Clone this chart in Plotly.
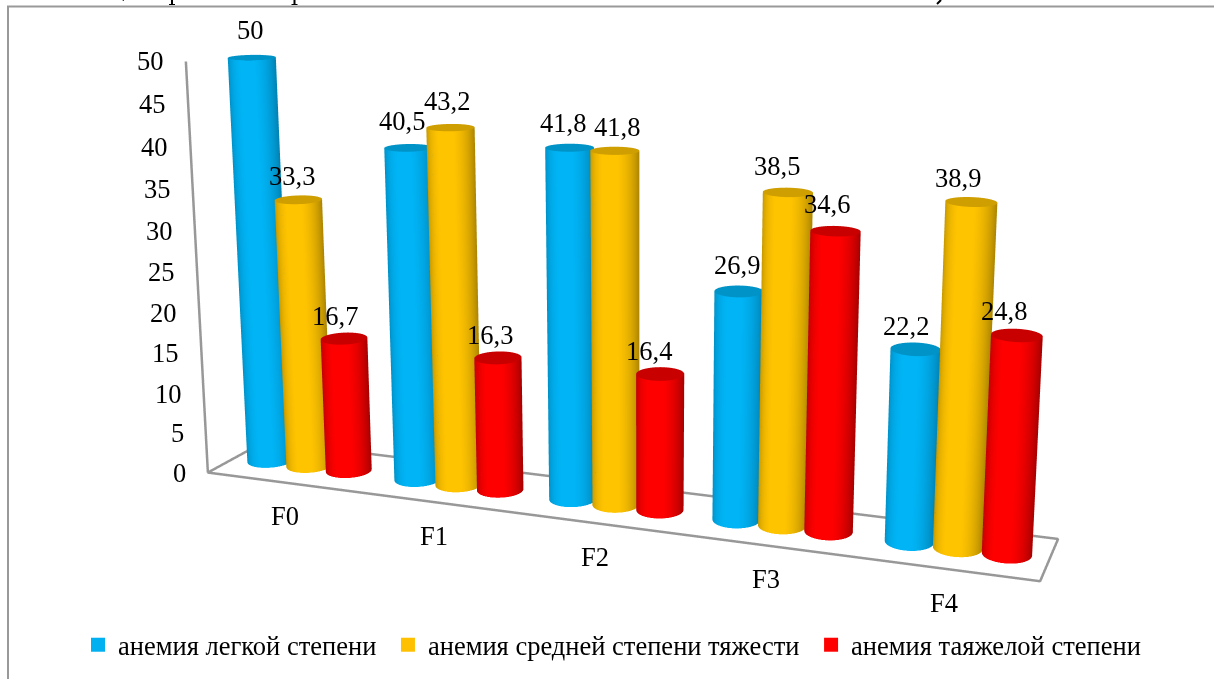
import numpy as np
import plotly.graph_objects as go

# Chart values
categories = ["F0", "F1", "F2", "F3", "F4"]
series_names = ["анемия легкой степени", "анемия средней степени тяжести", "анемия таяжелой степени"]
mild = [50, 40.5, 41.8, 26.9, 22.2]
moderate = [33.3, 43.2, 41.8, 38.5, 38.9]
severe = [16.7, 16.3, 16.4, 34.6, 24.8]
series_values = [mild, moderate, severe]
z_ticks = [0, 5, 10, 15, 20, 25, 30, 35, 40, 45, 50]

# Small per-label offsets in pixels, so labels sit clear of neighbouring cylinders
label_dx = [[6, 1, 0, 5, -3], [1, 3, 9, -4, -6], [-2, -1, -4, -2, -6]]
label_dy = [[-3, -2, 0, -1, 2], [1, -2, 1, -1, 1], [2, 2, 2, -2, 1]]
category_dx = [4, 0, 0, 1, -2]

# Cylinder colours: bright body, shaded edge, cap
BRIGHT = ["#00B4F5", "#FFC400", "#FF0000"]
EDGE = ["#0082B4", "#AE8600", "#A80000"]
CAP = ["#0093C8", "#CF9E00", "#C80000"]
LEGEND_COLOURS = ["#00B0F0", "#FFC000", "#FF0000"]
GRID_GREY = "#989898"
FONT = "Liberation Serif"
TEXT_SIZE = 26.5

# Scene proportions and camera
ASPECT = dict(x=2.0, y=0.2511, z=0.9875)
EYE = np.array([1.5024, -3.7330, 1.0104])
CENTER = np.array([0.2637, 0.2960, 0.0808])
UP = dict(x=-0.0021, y=-0.0426, z=1.0)

# The canvas is larger than the window, so that the vanishing point falls where it should
W, H = 1534, 1524
TOP = -518


def paper_x(px):
    return px / W


def paper_y(py):
    return 1 - (py - TOP) / H


BAR_STEP = 0.27      # category units between neighbouring cylinders
RADIUS = 0.135       # category units
N = 72

fig = go.Figure()


def cylinder(cx, cy, height, s):
    """Side wall and cap of one cylinder, shaded towards the camera."""
    rx = RADIUS
    ry = RADIUS * (ASPECT["x"] / 5) / ASPECT["y"]
    th = np.linspace(0, 2 * np.pi, N + 1)
    xs = cx + rx * np.cos(th)
    ys = cy + ry * np.sin(th)
    mx = (cx / 5 - 0.5) * ASPECT["x"]
    my = (cy - 0.5) * ASPECT["y"]
    view = np.arctan2(EYE[1] - my, EYE[0] - mx)
    shade = np.cos(th - view + np.radians(12))
    t = np.clip(shade / 0.95, 0, 1) ** 1.3
    lighting = dict(ambient=1, diffuse=0, specular=0, roughness=1, fresnel=0)
    fig.add_trace(go.Surface(
        x=np.array([xs, xs]), y=np.array([ys, ys]),
        z=np.array([np.zeros(N + 1), np.full(N + 1, height)]),
        surfacecolor=np.array([t, t]), cmin=0, cmax=1,
        colorscale=[[0, EDGE[s]], [1, BRIGHT[s]]],
        showscale=False, hoverinfo="skip", showlegend=False, lighting=lighting,
    ))
    fig.add_trace(go.Surface(
        x=np.array([np.full(N + 1, cx), xs]), y=np.array([np.full(N + 1, cy), ys]),
        z=np.full((2, N + 1), height),
        surfacecolor=np.zeros((2, N + 1)), cmin=0, cmax=1,
        colorscale=[[0, CAP[s]], [1, CAP[s]]],
        showscale=False, hoverinfo="skip", showlegend=False, lighting=lighting,
    ))


text_font = dict(family=FONT, size=TEXT_SIZE, color="black")
annotations = []
for s, values in enumerate(series_values):
    for i, v in enumerate(values):
        cx = i + 0.5 + (s - 1) * BAR_STEP
        cylinder(cx, 0.5, v, s)
        annotations.append(dict(
            x=cx, y=0.5, z=v, text=str(v).replace(".", ","), showarrow=False,
            xshift=-7 + label_dx[s][i], yshift=25 - label_dy[s][i], font=text_font,
        ))

# Axis labels stay horizontal, so they are placed at their axis positions as scene text
for t in z_ticks:
    annotations.append(dict(x=0, y=0, z=t, text=str(t), showarrow=False, xanchor="right",
                            xshift=-20, yshift=0, font=text_font))
for i, name in enumerate(categories):
    annotations.append(dict(x=i + 0.5, y=0, z=0, text=name, showarrow=False,
                            xshift=category_dx[i], yshift=-34, font=text_font))

# Value axis and floor outline, heavier than the built-in axis lines can be drawn
z_top = z_ticks[-1]
fig.add_trace(go.Scatter3d(
    x=[0, 0, 5, 5, 0, 0], y=[0, 0, 0, 1, 1, 0], z=[z_top, 0, 0, 0, 0, 0], mode="lines",
    line=dict(color=GRID_GREY, width=5), hoverinfo="skip", showlegend=False,
))

# Legend entries; the trailing no-break space widens the gap to the next entry
for name, colour in zip(series_names, LEGEND_COLOURS):
    fig.add_trace(go.Scatter3d(
        x=[None], y=[None], z=[None], mode="markers", name=name + "\u00a0",
        marker=dict(symbol="square", size=14, color=colour), hoverinfo="skip",
    ))

axis_common = dict(
    showbackground=False, showgrid=False, zeroline=False, showspikes=False,
    title=dict(text=""), showline=False, showticklabels=False, ticks="",
)
frame = dict(type="rect", xref="paper", yref="paper", x0=paper_x(8), x1=paper_x(1300),
             y0=paper_y(700), y1=paper_y(6.5), line=dict(color="#999999", width=2))


def stub(x0, y0, x1, y1, width=2):
    return dict(type="line", xref="paper", yref="paper", x0=paper_x(x0), x1=paper_x(x1),
                y0=paper_y(y0), y1=paper_y(y1), line=dict(color="black", width=width))


fig.update_layout(
    width=W, height=H,
    margin=dict(l=0, r=0, t=0, b=0),
    paper_bgcolor="white",
    font=dict(family=FONT, color="black"),
    showlegend=True,
    legend=dict(orientation="h", x=paper_x(78), y=paper_y(621), xanchor="left", yanchor="top",
                font=dict(family=FONT, size=TEXT_SIZE, color="black"), bgcolor="rgba(0,0,0,0)"),
    shapes=[frame, stub(172, 0, 172, 4), stub(169, 4.5, 175, 4.5, 1),
            stub(294.5, 0, 294.5, 4), stub(291.5, 4.5, 297.5, 4.5, 1),
            stub(123, 0, 123.5, 1, 1), stub(941, 0, 937, 4, 2)],
    scene=dict(
        domain=dict(x=[0, 1], y=[0, 1]),
        dragmode="orbit",
        aspectmode="manual", aspectratio=ASPECT,
        camera=dict(eye=dict(x=EYE[0], y=EYE[1], z=EYE[2]),
                    center=dict(x=CENTER[0], y=CENTER[1], z=CENTER[2]),
                    up=UP, projection=dict(type="perspective")),
        xaxis=dict(axis_common, range=[0, 5], tickmode="array",
                   tickvals=[i + 0.5 for i in range(5)]),
        yaxis=dict(axis_common, range=[0, 1]),
        zaxis=dict(axis_common, range=[0, 50], tickmode="array", tickvals=z_ticks),
        annotations=annotations,
    ),
)

# Shift the oversized canvas into the window and keep the page from scrolling
POST = f"""
var gd = document.getElementsByClassName('plotly-graph-div')[0];
gd.style.position = 'absolute';
gd.style.left = '0px';
gd.style.top = '{TOP}px';
document.documentElement.style.overflow = 'hidden';
document.body.style.overflow = 'hidden';
"""
fig.write_html("out.html", config=dict(displayModeBar=False), post_script=POST)
